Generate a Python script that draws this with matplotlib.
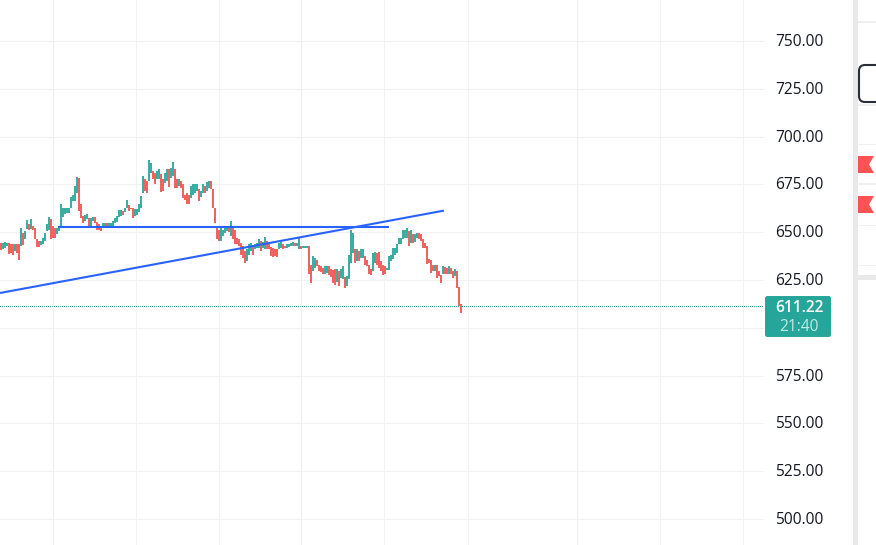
import matplotlib
matplotlib.use("Agg")
import matplotlib.pyplot as plt
from matplotlib.patches import FancyBboxPatch, Polygon, Rectangle
import numpy as np

highs = [646.6,644.5,644.1,644.8,644.5,644.5,643.6,643.6,643.6,643.6,643.6,652.3,649.7,650.6,656.3,654.1,656.7,653.5,652.3,646.2,
645.3,645.3,647.1,649.7,654.1,658.1,656.7,653.2,652.3,652.3,653.5,664.5,662.8,662.8,662.8,662.8,668.5,669.2,674.1,679.0,
678.5,664.5,658.4,658.8,659.3,657.5,657.5,658.1,658.1,655.3,654.1,652.8,654.9,654.9,654.9,654.6,654.9,655.8,657.5,658.4,
661.5,661.5,661.0,662.8,667.1,664.0,662.8,662.8,661.9,661.9,664.5,668.9,679.3,677.6,676.7,688.0,686.3,681.9,681.1,681.9,
682.8,680.2,677.6,681.1,682.8,682.8,683.7,686.6,682.8,677.6,677.6,676.7,675.0,669.7,670.6,669.7,674.1,675.0,675.0,675.0,
672.4,671.5,675.0,674.1,676.2,676.7,676.7,672.4,662.8,653.2,651.4,653.2,651.4,652.3,653.2,652.8,
656.0,652.3,651.4,647.1,646.5,644.4,642.7,640.1,641.0,643.6,644.4,642.7,643.6,644.4,646.2,645.3,644.8,647.6,645.3,644.4,
642.4,641.8,641.0,641.0,644.4,644.8,643.6,642.7,643.6,643.6,644.4,644.8,644.4,644.4,647.1,642.7,642.7,643.0,643.0,642.7,
633.1,637.5,636.6,635.7,632.6,632.2,631.4,632.2,632.2,632.2,630.5,630.1,630.5,630.8,629.6,630.5,632.2,626.7,627.0,638.0,
651.4,649.7,641.0,641.0,640.1,641.0,641.0,637.5,635.7,633.1,630.5,639.2,639.6,639.2,639.6,634.8,633.1,632.2,631.4,637.8,
638.3,641.8,641.8,643.6,647.1,647.1,651.4,651.4,652.3,650.5,651.4,648.8,648.8,649.7,649.7,648.8,646.2,644.4,642.7,636.1,
635.7,633.1,633.1,632.6,629.6,627.4,632.2,631.9,631.4,632.2,631.4,629.6,630.5,629.6,621.4,612.2]

lows = [641.0,640.6,641.3,641.9,642.7,638.4,639.2,638.0,640.1,639.2,635.4,642.7,643.1,646.2,651.8,651.4,651.8,651.1,646.2,642.4,
642.4,643.1,643.6,645.3,650.6,651.4,646.2,647.1,647.1,648.8,650.6,652.8,658.1,659.3,659.8,660.2,662.8,666.3,666.3,670.6,
661.0,657.5,654.9,655.8,656.7,652.8,653.2,655.8,654.9,651.4,651.1,650.6,652.3,652.8,652.3,652.8,652.8,653.5,654.6,655.3,
658.1,658.4,658.8,660.5,662.8,661.0,661.9,657.5,658.4,658.8,660.5,662.8,670.6,671.5,670.6,676.7,681.1,677.6,675.0,677.6,
677.6,671.0,671.5,675.8,676.7,673.8,678.5,679.3,673.2,673.2,674.1,673.2,668.0,667.1,664.5,664.5,668.0,669.7,670.6,671.5,
666.3,668.5,670.6,670.6,671.5,673.2,672.4,662.8,654.9,646.2,645.3,645.3,648.0,649.7,650.6,650.0,
648.0,646.2,643.6,643.6,642.7,638.3,636.6,634.0,634.8,638.3,640.1,638.3,641.0,641.8,641.8,640.1,641.8,641.0,641.0,641.0,
637.5,637.1,637.5,637.1,641.0,641.8,641.0,641.8,641.8,642.4,642.7,642.7,642.7,642.7,641.3,641.0,641.5,641.5,641.5,627.9,
623.5,629.6,631.4,632.2,629.6,629.1,627.9,627.9,628.8,627.4,626.7,623.5,622.6,623.9,622.1,626.1,625.6,620.9,622.1,625.3,
634.0,639.2,634.0,634.8,634.8,636.6,636.6,633.1,632.2,627.9,627.4,629.6,634.0,633.1,631.4,629.6,627.4,627.9,630.1,630.1,
634.8,636.1,638.3,639.2,643.6,643.6,646.2,647.1,647.1,642.7,644.4,644.4,644.8,647.1,646.2,645.3,641.8,641.8,633.6,634.0,
628.8,629.6,629.6,626.1,627.0,623.5,627.9,627.9,627.9,627.9,627.9,626.1,627.0,620.9,611.3,607.5]

price_ticks = [750, 725, 700, 675, 650, 625, 600, 575, 550, 525, 500]
price_labels = ["750.00", "725.00", "700.00", "675.00", "650.00", "625.00", "", "575.00", "550.00", "525.00", "500.00"]
time_grid = [27, 68.5, 110, 151, 192.5, 234.25, 289, 330.5, 372]
last_price = 611.22
countdown = "21:40"
flat_line_x = [29.5, 195]
flat_line_y = [652.9, 652.9]
trend_line_x = [0.5, 222.5]
trend_line_y = [618.2, 661.3]

UP, DOWN = "#26a69a", "#ef5350"
BLUE = "#2962ff"
GRID = "#f0f1f3"
SEP = "#e9e9ea"
TEXT = "#131722"
plt.rcParams["font.family"] = ["Open Sans", "DejaVu Sans"]

n = min(len(highs), len(lows))
highs_a, lows_a = np.array(highs[:n]), np.array(lows[:n])
mid = (highs_a + lows_a) / 2
rising = np.r_[False, mid[1:] >= mid[:-1]]
xs = np.arange(n)

fig = plt.figure(figsize=(8.76, 5.45), dpi=100, facecolor="white")
ax = fig.add_axes([0, 0, 764 / 876, 1])
ax.set_xlim(0.5, 382.5)
ax.set_ylim(750 - (545 - 41) / 1.912, 750 + 41 / 1.912)
for s in ax.spines.values():
    s.set_visible(False)
ax.set_xticks([])
ax.set_yticks([])
for p in price_ticks:
    ax.axhline(p, color=GRID, lw=0.8, zorder=0)
for t in time_grid:
    ax.axvline(t, color=GRID, lw=0.8, zorder=0)

ax.axhline(last_price, color=UP, lw=0.72, ls=(0, (1, 2)), zorder=1, antialiased=False)
ax.vlines(xs[rising], lows_a[rising], highs_a[rising], color=UP, lw=1.3, zorder=2)
ax.vlines(xs[~rising], lows_a[~rising], highs_a[~rising], color=DOWN, lw=1.3, zorder=2)
ax.plot(flat_line_x, flat_line_y, color=BLUE, lw=1.5, zorder=3, solid_capstyle="butt")
ax.plot(trend_line_x, trend_line_y, color=BLUE, lw=1.5, zorder=3, solid_capstyle="butt")

# overlay in figure pixels for the price scale and the side panel
ov = fig.add_axes([0, 0, 1, 1], facecolor="none")
ov.set_xlim(0, 876)
ov.set_ylim(545, 0)
ov.axis("off")

def price_y(p):
    return 41 + (750 - p) * 1.912

for p, lab in zip(price_ticks, price_labels):
    if lab:
        ov.text(799.5, price_y(p) + 1, lab, ha="center", va="center", fontsize=11.2, color=TEXT)

ov.add_patch(FancyBboxPatch((765.5, 296.5), 65, 40, boxstyle="round,pad=0,rounding_size=2",
                            fc=UP, ec=UP, lw=0.7))
ov.text(799.5, 308.5, f"{last_price:.2f}", ha="center", va="center", fontsize=11.2,
        color="white", weight="semibold")
ov.text(798.5, 327, countdown, ha="center", va="center", fontsize=11.2, color="#c4e7e3",
        weight="medium")

# side panel
ov.add_patch(Rectangle((853, 0), 5, 545, fc=SEP, ec="none"))
ov.add_patch(Rectangle((858, 275), 18, 5, fc=SEP, ec="none"))
for y, h in [(22, 1.5), (105, 1.5), (144, 1), (184, 1.5), (225, 1), (265, 1)]:
    ov.add_patch(Rectangle((858, y - h / 2), 18, h, fc="#f0f0f1", ec="none"))
ov.add_patch(FancyBboxPatch((859, 65), 40, 37, boxstyle="round,pad=0,rounding_size=6",
                            fc="white", ec="#2a2e39", lw=1.5, clip_on=True))
for top in (156, 196):
    ov.add_patch(Polygon([(858, top), (874, top), (869, top + 8.5), (874, top + 17), (858, top + 17)],
                         closed=True, fc="#ff5252", ec="none"))

fig.savefig("out.png", dpi=100, facecolor="white")
